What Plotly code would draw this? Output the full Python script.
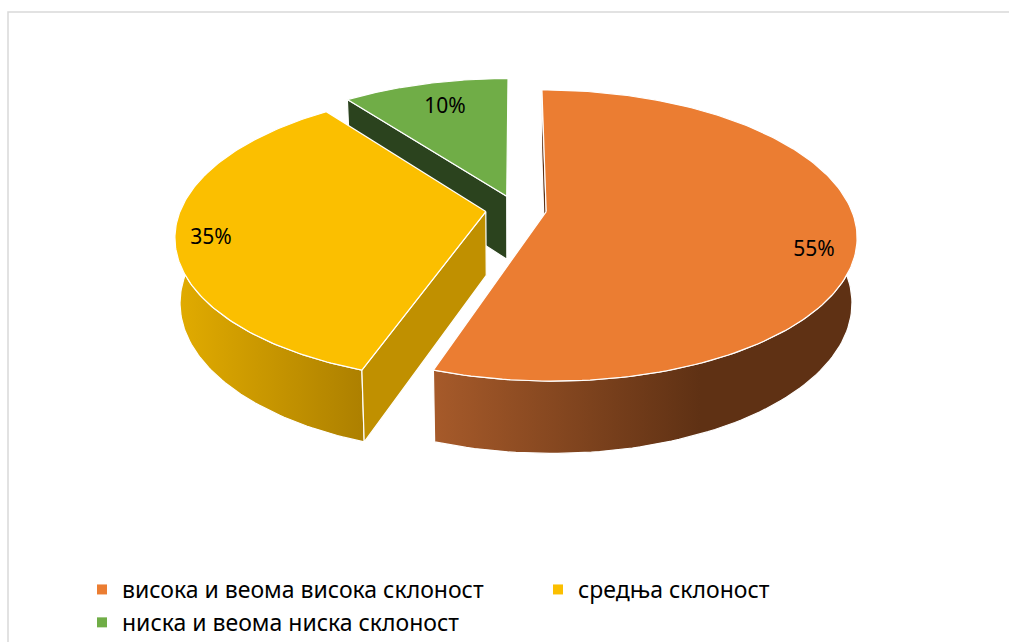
import numpy as np
import plotly.graph_objects as go

categories = ["висока и веома висока склоност", "средња склоност", "ниска и веома ниска склоност"]
values = [55.3, 34.4, 10.3]
labels = ["55%", "35%", "10%"]
top_colors = ["#EB7D32", "#FBBF00", "#70AD47"]
face_colors = ["#5F3114", "#C09000", "#2B431E"]
wall_gradients = [["#A65A2A", "#5F3114"], ["#E2AC00", "#AD8000"], None]

WIDTH, HEIGHT = 1009, 644
CX, CY, S, TILT, PERSP = 516, 210, 305, 0.4635, 0.164
EXPLODE, DROP, SHRINK_X, STRETCH_Y = 0.1, 64, 0.985, 1.05
FONT = "Noto Sans"


def top(theta, mid):
    t, m = np.radians(theta), np.radians(mid)
    X = np.sin(t) + EXPLODE * np.sin(m)
    Y = np.cos(t) + EXPLODE * np.cos(m)
    w = 1 + PERSP * Y
    return CX + S * X / w, CY - S * TILT * Y / w


def bottom(x, y):
    return CX + (x - CX) * SHRINK_X, CY + (y - CY) * STRETCH_Y + DROP


def apex(mid):
    m = np.radians(mid)
    X, Y = EXPLODE * np.sin(m), EXPLODE * np.cos(m)
    w = 1 + PERSP * Y
    return CX + S * X / w, CY - S * TILT * Y / w


edges = np.cumsum([0] + values) * 3.6
# the explosion direction follows the nominal slice centres
mids = [99.0, 261.0, 342.0]
slices = [(edges[i], edges[i + 1], mids[i]) for i in range(len(values))]
fig = go.Figure()


def poly(xs, ys, color=None, gradient=None):
    kw = dict(x=list(xs) + [xs[0]], y=list(ys) + [ys[0]], mode="lines", fill="toself",
              line=dict(color="white", width=1.2), hoverinfo="skip", showlegend=False)
    if gradient:
        kw["fillgradient"] = gradient
    else:
        kw["fillcolor"] = color
    fig.add_trace(go.Scatter(**kw))


def radial_face(i, theta):
    a, b, m = slices[i]
    ax, ay = apex(m)
    rx, ry = top(np.array([theta]), m)
    bax, bay = bottom(ax, ay)
    brx, bry = bottom(rx[0], ry[0])
    poly([rx[0], ax, bax, brx], [ry[0], ay, bay, bry], face_colors[i])


def wall(i, t0, t1, x0, x1):
    m = slices[i][2]
    th = np.linspace(t0, t1, 90)
    x, y = top(th, m)
    bx, by = bottom(x, y)
    g = dict(type="horizontal", start=x0, stop=x1,
             colorscale=[[0, wall_gradients[i][0]], [1, wall_gradients[i][1]]])
    poly(np.r_[x, bx[::-1]], np.r_[y, by[::-1]], gradient=g)


def top_face(i):
    a, b, m = slices[i]
    th = np.linspace(a, b, 160)
    x, y = top(th, m)
    ax, ay = apex(m)
    poly(np.r_[ax, x], np.r_[ay, y], top_colors[i])


# back to front
radial_face(2, slices[2][0])
top_face(2)
radial_face(0, slices[0][0])
wall(0, 80, slices[0][1], 435, 700)
top_face(0)
wall(1, slices[1][0], 285, 175, 362)
radial_face(1, slices[1][0])
top_face(1)

# data labels
fig.add_trace(go.Scatter(x=[814, 211, 445], y=[252, 239, 108], mode="text",
                         text=labels, textposition="middle center",
                         textfont=dict(family=FONT, size=21, color="black"),
                         hoverinfo="skip", showlegend=False))

# legend entries
for name, c in zip(categories, top_colors):
    fig.add_trace(go.Scatter(x=[None], y=[None], mode="markers", name=name,
                             marker=dict(symbol="square", size=10, color=c)))

fig.update_layout(
    width=WIDTH, height=HEIGHT, margin=dict(l=0, r=0, t=0, b=0),
    paper_bgcolor="white", plot_bgcolor="white",
    xaxis=dict(range=[0, WIDTH], visible=False, fixedrange=True),
    yaxis=dict(range=[HEIGHT, 0], visible=False, fixedrange=True),
    legend=dict(orientation="h", x=82 / WIDTH, y=1 - 570 / HEIGHT, xanchor="left", yanchor="top",
                entrywidth=411, entrywidthmode="pixels", font=dict(family=FONT, size=23, color="black"),
                bgcolor="rgba(0,0,0,0)", traceorder="normal", itemclick=False, itemdoubleclick=False),
    shapes=[dict(type="rect", xref="x", yref="y", x0=8, y0=12, x1=1030, y1=670,
                 line=dict(color="#D9D9D9", width=1.5), layer="below")],
)
fig.write_html("out.html", config={"displayModeBar": False},
               post_script="document.body.style.margin='0';")
